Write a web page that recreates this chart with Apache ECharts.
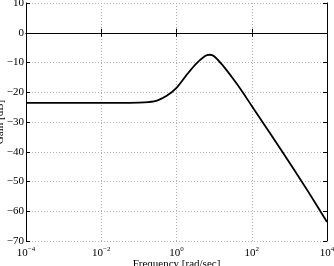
<!DOCTYPE html>
<html>
<head>
<meta charset="utf-8">
<script src="https://cdn.jsdelivr.net/npm/echarts@6/dist/echarts.min.js"></script>
<style>
  html, body { margin: 0; padding: 0; background: #fff; }
  #main { width: 334px; height: 266px; }
</style>
</head>
<body>
<div id="main"></div>
<script>
// frequency [rad/sec] and gain [dB]
var freq = [0.0001, 0.001, 0.01, 0.0316, 0.1, 0.178, 0.316, 0.562, 1, 1.778, 3.162, 5.623, 7.499, 10, 17.78, 31.62, 56.23, 100, 316.2, 1000, 3162, 10000];
var gain = [-23.6, -23.6, -23.6, -23.6, -23.5, -23.3, -22.7, -21.1, -18.5, -14.5, -10.7, -7.9, -7.4, -7.9, -11.3, -15.4, -19.8, -24.6, -34.0, -43.6, -53.4, -63.6];
var yTicks = [-70, -60, -50, -40, -30, -20, -10, 0, 10];

var fontFam = '"Liberation Serif", "DejaVu Serif", serif';

var chart = echarts.init(document.getElementById('main'));

function minus(v) {
    return String(v).replace('-', '\u2212');
}

var axisLineStyle = { color: '#000', width: 1 };
var gridLine = { show: true, lineStyle: { color: '#b0b0b0', type: [1, 2], width: 1 } };

var option = {
    animation: false,
    grid: { left: 26, right: 7, top: 3, bottom: 25, containLabel: false, outerBoundsMode: 'none' },
    xAxis: [{
        type: 'log',
        logBase: 100,
        min: 0.0001,
        max: 10000,
        name: 'Frequency [rad/sec]',
        nameLocation: 'middle',
        nameGap: 18,
        nameMoveOverlap: false,
        nameTextStyle: { fontFamily: fontFam, fontSize: 11, color: '#000' },
        axisLine: { lineStyle: axisLineStyle },
        axisTick: { inside: true, length: 4, lineStyle: axisLineStyle },
        axisLabel: {
            margin: 5,
            color: '#000',
            formatter: function (v) {
                var e = Math.round(Math.log(v) / Math.LN10);
                return '{b|10}{s|' + minus(e) + '}';
            },
            rich: {
                b: { fontFamily: fontFam, fontSize: 11, color: '#000', lineHeight: 14 },
                s: { fontFamily: fontFam, fontSize: 7, color: '#000', verticalAlign: 'top', lineHeight: 8 }
            }
        },
        splitLine: gridLine
    }, {
        type: 'log',
        logBase: 100,
        min: 0.0001,
        max: 10000,
        position: 'top',
        axisLine: { lineStyle: axisLineStyle },
        axisTick: { inside: true, length: 4, lineStyle: axisLineStyle },
        axisLabel: { show: false },
        splitLine: { show: false }
    }],
    yAxis: [{
        type: 'value',
        min: yTicks[0],
        max: yTicks[yTicks.length - 1],
        interval: 10,
        name: 'Gain [dB]',
        nameLocation: 'middle',
        nameGap: 20,
        nameMoveOverlap: false,
        nameTextStyle: { fontFamily: fontFam, fontSize: 11, color: '#000' },
        axisLine: { show: true, lineStyle: axisLineStyle },
        axisTick: { show: true, inside: true, length: 4, lineStyle: axisLineStyle },
        axisLabel: {
            margin: 2,
            fontFamily: fontFam,
            fontSize: 11,
            color: '#000',
            formatter: function (v) { return minus(v); }
        },
        splitLine: gridLine
    }, {
        type: 'value',
        min: yTicks[0],
        max: yTicks[yTicks.length - 1],
        interval: 10,
        position: 'right',
        axisLine: { show: true, lineStyle: axisLineStyle },
        axisTick: { show: true, inside: true, length: 4, lineStyle: axisLineStyle },
        axisLabel: { show: false },
        splitLine: { show: false }
    }],
    series: [{
        type: 'line',
        data: freq.map(function (f, i) { return [f, gain[i]]; }),
        smooth: 0.3,
        showSymbol: false,
        lineStyle: { color: '#000', width: 1.8 },
        markLine: {
            silent: true,
            symbol: 'none',
            label: { show: false },
            lineStyle: { color: '#000', width: 1, type: 'solid' },
            data: [{ yAxis: 0 }]
        }
    }]
};

chart.setOption(option);
</script>
</body>
</html>
